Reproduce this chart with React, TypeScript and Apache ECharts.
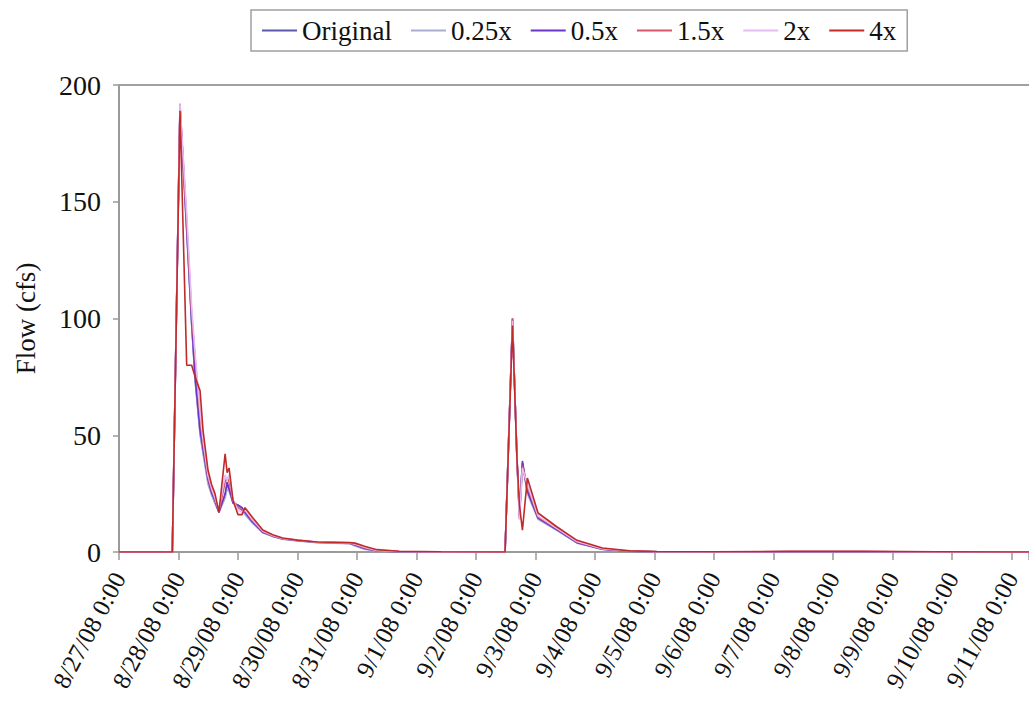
import React, { useEffect, useRef } from "react";
import * as echarts from "echarts";

// hours since 8/27/08 0:00
const hours = [0, 21.5, 24.6, 27.3, 29.3, 30.7, 32.7, 33.9, 35.9, 37.3, 38.7, 40.3, 42.8, 43.6, 44.4, 46, 48, 49.6, 50.8, 53.7, 58, 62, 66, 72, 80, 93, 95.2, 99, 104, 113, 130, 155.7, 158.7, 160.5, 161.5, 162.7, 164.7, 169, 176.7, 184.7, 195, 206, 217, 240, 270, 300, 330, 367];

const original = [0, 0, 190, 138, 98, 74, 51, 43, 30, 25, 21, 17, 24, 29, 27, 21, 20, 19, 17, 13, 8.4, 6.7, 5.6, 4.8, 4.1, 3.7, 2.8, 1.4, 0.4, 0.1, 0, 0, 99, 40, 16, 38, 26, 14.3, 9.4, 4, 1.2, 0.3, 0.1, 0, 0.1, 0.1, 0, 0];
const x025 = [0, 0, 191, 137, 97, 73, 50, 42, 29, 24.5, 21, 17, 23, 27, 26, 21, 20, 18, 16, 12.5, 8.2, 6.6, 5.5, 4.7, 4, 3.6, 2.6, 1.2, 0.3, 0.1, 0, 0, 100, 40, 16, 38, 25, 14, 9.2, 3.8, 1.1, 0.3, 0.1, 0, 0.1, 0.1, 0, 0];
const x05 = [0, 0, 192, 139, 99, 75, 52, 44, 31, 25.5, 22, 17, 25, 30, 27, 21, 20, 19, 17, 13, 8.5, 6.8, 5.7, 4.9, 4.2, 3.8, 3, 1.5, 0.5, 0.1, 0, 0, 100, 40, 15, 39, 26, 14.5, 9.5, 4, 1.2, 0.3, 0.1, 0, 0.1, 0.1, 0, 0];
const x15 = [0, 0, 191, 142, 102, 83, 58, 46, 32, 26.5, 23, 17, 30, 32, 30, 22, 19, 18, 18, 13.5, 8.8, 7, 5.8, 5, 4.2, 3.9, 3.2, 1.8, 0.6, 0.2, 0, 0, 100, 40, 14, 37, 28, 15, 10, 4.3, 1.3, 0.3, 0.1, 0, 0.2, 0.2, 0, 0];
const x2 = [0, 0, 192, 145, 105, 85, 60, 48, 33, 27.5, 23, 18, 33, 31, 33, 22, 18, 17, 18, 14, 9, 7.1, 5.8, 5, 4.2, 3.9, 3.4, 2, 0.7, 0.2, 0, 0, 99, 40, 14, 36, 29, 15.5, 10, 4.5, 1.4, 0.4, 0.1, 0, 0.2, 0.2, 0, 0];
const x4 = [0, 0, 189, 80, 80, 75, 69, 52, 35, 29, 25, 17, 42, 34, 36, 22, 16, 16, 19, 15, 9.4, 7.4, 6, 5.1, 4.3, 4, 3.8, 2.5, 1, 0.3, 0.1, 0, 97, 40, 20, 9.4, 31.7, 16.7, 10.7, 5, 1.7, 0.5, 0.2, 0.1, 0.3, 0.3, 0.1, 0];

const dateLabels = ["8/27/08 0:00", "8/28/08 0:00", "8/29/08 0:00", "8/30/08 0:00", "8/31/08 0:00", "9/1/08 0:00", "9/2/08 0:00", "9/3/08 0:00", "9/4/08 0:00", "9/5/08 0:00", "9/6/08 0:00", "9/7/08 0:00", "9/8/08 0:00", "9/9/08 0:00", "9/10/08 0:00", "9/11/08 0:00"];

const seriesNames = ["Original", "0.25x", "0.5x", "1.5x", "2x", "4x"];
const seriesValues = [original, x025, x05, x15, x2, x4];
const seriesColors = ["#5a5aa8", "#a8aed2", "#6a34c8", "#d2586a", "#e6bcf2", "#c02a2a"];

const FONT = "'Liberation Serif', 'DejaVu Serif', serif";

export default function App() {
  const ref = useRef<HTMLDivElement>(null);
  useEffect(() => {
    if (!ref.current) return;
    const chart = echarts.init(ref.current, null, { renderer: "svg" });
    chart.setOption({
      animation: false,
      backgroundColor: "#ffffff",
      textStyle: { fontFamily: FONT },
      legend: {
        left: 251,
        top: 10,
        padding: [7, 11, 7, 11],
        itemGap: 19,
        itemWidth: 35,
        itemHeight: 2,
        icon: "rect",
        borderColor: "#a0a0a0",
        borderWidth: 1.5,
        textStyle: { fontFamily: FONT, fontSize: 27, color: "#111" },
        data: seriesNames,
      },
      grid: {
        left: 119,
        right: 0,
        top: 85,
        bottom: 153,
        containLabel: false,
        outerBoundsMode: "none",
      },
      xAxis: [
        {
          type: "value",
          min: 0,
          max: 367,
          interval: 24,
          axisLine: { show: true, lineStyle: { color: "#9a9a9a", width: 2 } },
          axisTick: { show: true, length: 8, lineStyle: { color: "#9a9a9a", width: 1.5 } },
          splitLine: { show: false },
          axisLabel: {
            rotate: 62,
            margin: 22,
            fontSize: 25,
            fontFamily: FONT,
            color: "#111",
            formatter: (v: number) => {
              const i = Math.round(v / 24);
              return Math.abs(v - i * 24) < 0.01 ? dateLabels[i] ?? "" : "";
            },
          },
        },
        {
          type: "value",
          position: "top",
          min: 0,
          max: 367,
          axisLine: { show: true, lineStyle: { color: "#a0a0a0", width: 2 } },
          axisTick: { show: false },
          axisLabel: { show: false },
          splitLine: { show: false },
        },
      ],
      yAxis: {
        type: "value",
        min: 0,
        max: 200,
        interval: 50,
        name: "Flow (cfs)",
        nameLocation: "middle",
        nameGap: 80,
        nameTextStyle: { fontFamily: FONT, fontSize: 27, color: "#111" },
        axisLine: { show: true, lineStyle: { color: "#9a9a9a", width: 2 } },
        axisTick: { show: true, length: 6, lineStyle: { color: "#9a9a9a", width: 1.5 } },
        splitLine: { show: false },
        axisLabel: { margin: 18, fontSize: 28, fontFamily: FONT, color: "#111" },
      },
      series: seriesNames.map((name, k) => ({
        name,
        type: "line",
        xAxisIndex: 0,
        symbol: "none",
        smooth: false,
        color: seriesColors[k],
        lineStyle: { width: 1.6, color: seriesColors[k] },
        data: hours.map((h, i) => [h, seriesValues[k][i]]),
      })),
    });
    return () => chart.dispose();
  }, []);
  return (
    <div
      ref={ref}
      style={{ position: "fixed", left: 0, top: 0, width: 1029, height: 705, background: "#fff" }}
    />
  );
}
